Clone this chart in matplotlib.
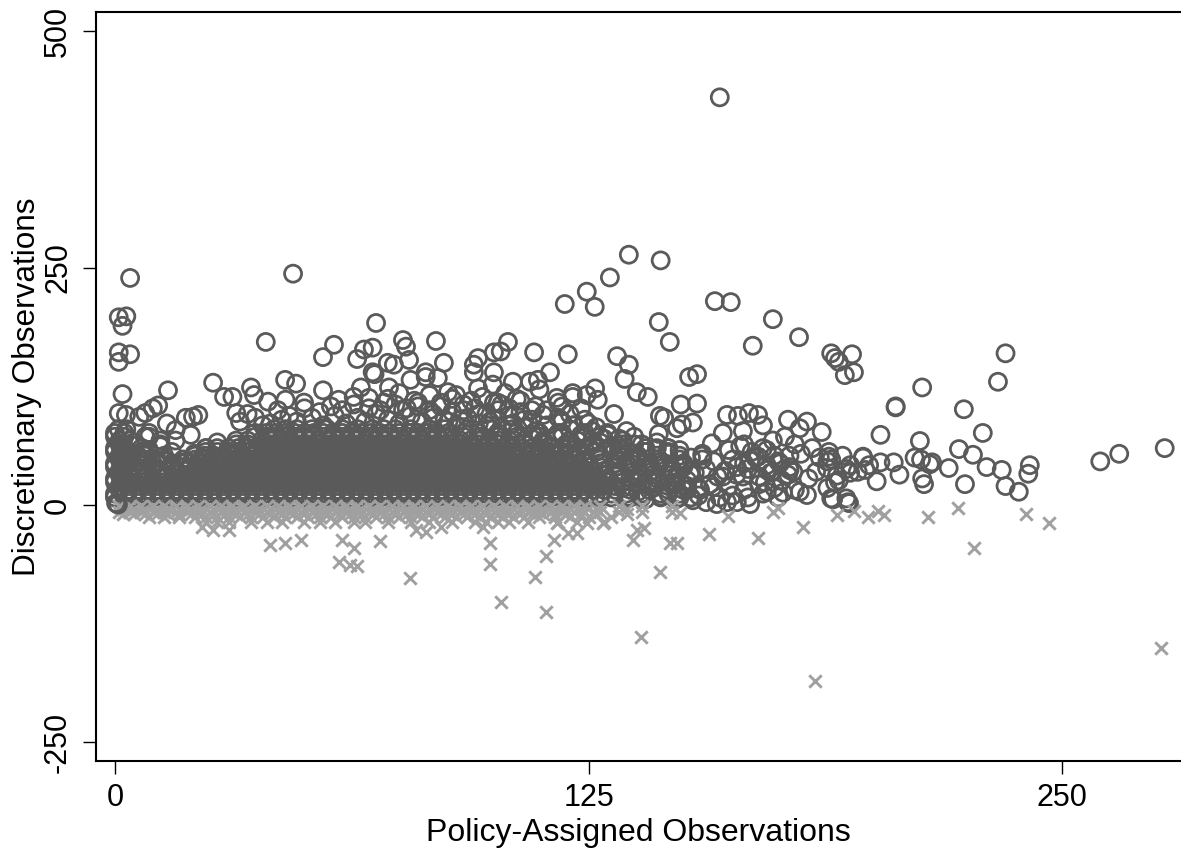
#!/usr/bin/env python3
"""Discretionary vs policy-assigned observations scatter, read off the picture."""

import matplotlib

matplotlib.use("Agg")
import matplotlib.pyplot as plt

plt.rcParams["font.family"] = ["Liberation Sans", "DejaVu Sans"]
plt.rcParams["axes.unicode_minus"] = False

# sparse upper circles, read one by one
outer_x = [159.6, 47, 4, 1, 3, 2, 1, 4, 1, 2, 135.6, 144, 130.6, 124.5, 118.7, 126.6, 158.3, 162.5,
           143.5, 173.6, 168.3, 180.5, 146.4, 119.5, 132.5, 135.6, 134.5, 137.7, 140.6, 151.5, 153.6,
           149.3, 153.6, 143.8, 144.9, 189, 194.5, 190, 191, 192.6, 195, 213, 235, 233, 206, 206, 202,
           224, 229, 212.4, 260, 265, 277, 222.7, 226.4, 230, 234, 224.3, 235, 238.5, 241.4, 241, 220,
           215.6, 211, 205.5, 202, 197.4, 198, 201, 207, 213, 213.5, 212.7, 215, 194, 199, 193, 189,
           193.7, 103.7, 101.8, 110.6, 114.8, 111.6, 109.5, 126.7, 127.4, 124.5, 120.8, 120.8, 116.6,
           131.7, 143.5, 148.3, 149.6, 152.5, 161.5, 164.4, 167.3, 169.7, 171, 165.7, 160.4, 157.5,
           177.6, 182.6, 180.7, 176.8, 179.4, 173.6, 186.5, 188.4, 188.4, 188, 185, 190.5, 187.9,
           197.4, 196, 189.5, 193.4, 167.6, 175.5, 178, 177.6, 179, 180.7, 182.6, 179.4, 176.3, 172,
           171.5, 173.6, 172, 169.7, 167.6, 164.1, 165.7, 164.1, 161.5, 158.8, 156, 152.5, 159.6,
           157.8, 160.4, 154.4]
outer_y = [430, 244, 239.5, 198, 199, 189, 161, 159, 151, 117, 264, 258, 240, 225, 212, 209, 215, 214,
           193, 196, 168, 177, 172, 159, 157, 148, 133, 119, 114, 135, 138,
           106, 107, 94, 92, 160, 159, 155, 151, 137, 140, 124, 160, 130, 104, 103, 74,
           101, 76, 67.5, 46, 54, 60, 59, 53, 40, 37, 22, 20, 14, 42, 33, 39,
           45, 50, 45, 45, 50, 37, 25, 32, 28, 22, 48, 43, 34, 42, 7, 7,
           2, 172, 162, 161, 140, 132, 130, 123, 111, 116, 118, 114, 113,
           96, 75, 81, 85, 87, 95, 94, 97, 95, 84, 78, 76, 65,
           90, 88, 81, 72, 64, 68, 77, 56, 51, 46, 35, 31, 39,
           51, 35, 6, 3, 1, 44, 37, 32, 35, 14, 10.5, 16, 13, 14,
           24, 35, 37, 51, 47, 40, 30, 3, 3, 1, 3, 5, 8,
           19, 30, 16]

# circles just above the solid cloud
upper_x = [68.9, 39.8, 57.8, 54.9, 76, 76.8, 84.7, 68, 65.7, 63.9, 77.6, 72, 73.6, 86.8, 95.8, 94.7,
           94.7, 100, 100, 68, 68.5, 72.3, 78, 82, 82, 85.2, 87.9, 95.8, 99.7, 64.9, 63, 67, 59, 54.9,
           47.8, 44.9, 45, 49.9, 40.4, 35.9, 36.7, 25.9, 28.8, 31, 32, 14, 1, 2.9, 8, 6.4, 11.4, 10,
           13.7, 18.7, 20.6, 22, 16, 71, 76, 80, 89, 92, 103, 106, 110, 91, 96, 84, 88, 102, 98,
           108, 104, 113, 117, 121, 125, 130, 135, 139, 143, 146, 105, 112, 100, 118, 128, 137]
upper_y = [192, 172, 169, 156, 174, 167, 173, 166, 164, 154, 153, 150, 148, 150, 155, 148,
           140, 161, 140, 140, 138, 124, 132, 140, 135, 134, 119, 123, 127, 124, 114, 113, 111, 121,
           128, 132, 111, 108, 109, 124, 116, 129, 114, 114, 97, 121, 97, 95, 97, 93, 105, 102,
           86, 92, 93, 95, 79, 108, 100, 104, 112, 100, 118, 112, 100, 90, 96, 92, 88, 106, 84,
           90, 84, 95, 92, 84, 86, 74, 78, 64, 66, 60, 130, 122, 108, 104, 72, 72]

# rings crowding the top of the cloud and its thinning right side
crowd_x = [33, 37, 41, 44, 48, 52, 55, 58, 61, 64, 66, 69, 72, 75, 78, 81, 84, 87, 90, 93, 96, 99, 102, 105,
           35, 39, 43, 46, 50, 54, 57, 60, 63, 67, 70, 74, 77, 80, 83, 86, 89, 92, 95, 98, 101, 104, 107, 110,
           72, 75, 79, 83, 86, 90, 94, 97, 101, 104, 107, 111, 114, 117, 120, 123,
           108, 111, 114, 117, 120, 123, 126, 129, 110, 113, 116, 119, 122, 125, 128, 131, 118, 121, 124, 127, 130, 133,
           131, 134, 137, 140, 143, 146, 149, 152, 155, 158, 132, 135, 138, 141, 144, 147, 150, 153, 156, 159,
           133, 136, 139, 142, 145, 148, 151, 154, 157, 134, 138, 142, 146, 150, 154, 136, 140, 144, 148, 152,
           162, 165, 168, 171, 174, 163, 166, 169, 172, 175, 178, 161, 164, 167, 170, 173, 176, 162, 166, 170, 174,
           163, 167, 171, 175, 166, 172, 178, 184, 181, 186, 183, 190, 193, 188, 191, 194, 189, 192,
           6, 9, 12, 15, 18, 21, 24, 27, 5, 8, 12, 16, 20, 7, 11, 15, 19, 23]
crowd_y = [88, 92, 86, 90, 88, 92, 84, 94, 86, 92, 88, 96, 90, 86, 94, 88, 96, 90, 84, 92, 86, 88, 82, 86,
           96, 84, 100, 94, 102, 98, 104, 100, 106, 102, 100, 106, 102, 108, 100, 104, 98, 106, 102, 96, 100, 94, 98, 90,
           112, 118, 110, 116, 108, 116, 110, 114, 108, 102, 110, 104, 100, 108, 96, 102,
           82, 78, 84, 76, 80, 74, 78, 70, 70, 66, 72, 64, 68, 62, 66, 60, 88, 84, 90, 82, 76, 70,
           62, 58, 64, 56, 60, 54, 58, 50, 54, 46, 48, 44, 50, 42, 46, 38, 42, 34, 38, 30,
           34, 28, 32, 24, 28, 22, 26, 18, 22, 18, 14, 18, 12, 16, 10, 8, 6, 9, 6, 8,
           58, 62, 56, 60, 52, 48, 44, 50, 42, 46, 40, 36, 32, 38, 30, 34, 26, 20, 16, 22, 18,
           10, 8, 12, 8, 64, 58, 52, 60, 54, 50, 28, 24, 38, 18, 26, 42, 48, 52,
           52, 58, 50, 56, 48, 54, 60, 66, 66, 72, 62, 68, 74, 46, 44, 42, 46, 50]

# solid cloud, one list per band of y values
band_y = [8, 16, 24, 32, 40, 48, 56, 64, 72, 80]
band_y_mid = [12, 20, 28, 36, 44, 52, 60, 68, 76, 84]
band_08 = [0, 2.5, 5, 7.5, 10, 12.5, 15, 17.5, 20, 22.5, 25, 27.5, 30, 32.5, 35, 37.5, 40, 42.5, 45, 47.5,
           50, 52.5, 55, 57.5, 60, 62.5, 65, 67.5, 70, 72.5, 75, 77.5, 80, 82.5, 85, 87.5, 90, 92.5, 95,
           97.5, 100, 102.5, 105, 107.5, 110, 112.5, 115, 117.5, 120, 122.5, 125, 128, 131, 135, 139, 144, 149]
band_16 = [1.2, 3.7, 6.2, 8.7, 11.2, 13.7, 16.2, 18.7, 21.2, 23.7, 26.2, 28.7, 31.2, 33.7, 36.2, 38.7, 41.2,
           43.7, 46.2, 48.7, 51.2, 53.7, 56.2, 58.7, 61.2, 63.7, 66.2, 68.7, 71.2, 73.7, 76.2, 78.7, 81.2,
           83.7, 86.2, 88.7, 91.2, 93.7, 96.2, 98.7, 101.2, 103.7, 106.2, 108.7, 111.2, 113.7, 116.2,
           118.7, 121.2, 123.7, 126.2, 129, 132, 136, 141, 146, 151]
band_24 = [0, 2.5, 5, 7.5, 10, 12.5, 15, 17.5, 20, 22.5, 25, 27.5, 30, 32.5, 35, 37.5, 40, 42.5, 45, 47.5,
           50, 52.5, 55, 57.5, 60, 62.5, 65, 67.5, 70, 72.5, 75, 77.5, 80, 82.5, 85, 87.5, 90, 92.5, 95,
           97.5, 100, 102.5, 105, 107.5, 110, 112.5, 115, 117.5, 120, 122.5, 125, 127.5, 130, 134, 138, 143, 148]
band_32 = [1.2, 3.7, 6.2, 8.7, 11.2, 13.7, 16.2, 18.7, 21.2, 23.7, 26.2, 28.7, 31.2, 33.7, 36.2, 38.7, 41.2,
           43.7, 46.2, 48.7, 51.2, 53.7, 56.2, 58.7, 61.2, 63.7, 66.2, 68.7, 71.2, 73.7, 76.2, 78.7, 81.2,
           83.7, 86.2, 88.7, 91.2, 93.7, 96.2, 98.7, 101.2, 103.7, 106.2, 108.7, 111.2, 113.7, 116.2,
           118.7, 121.2, 123.7, 126.2, 129, 133, 137, 142, 147, 152]
band_40 = [0, 2.5, 6, 10, 15, 17.5, 20, 22.5, 25, 27.5, 30, 32.5, 35, 37.5, 40, 42.5, 45, 47.5,
           50, 52.5, 55, 57.5, 60, 62.5, 65, 67.5, 70, 72.5, 75, 77.5, 80, 82.5, 85, 87.5, 90, 92.5, 95,
           97.5, 100, 102.5, 105, 107.5, 110, 112.5, 115, 117.5, 120, 122.5, 125, 128, 132, 136, 140, 145, 150]
band_48 = [1.2, 3.7, 8, 13, 21.2, 23.7, 26.2, 28.7, 31.2, 33.7, 36.2, 38.7, 41.2,
           43.7, 46.2, 48.7, 51.2, 53.7, 56.2, 58.7, 61.2, 63.7, 66.2, 68.7, 71.2, 73.7, 76.2, 78.7, 81.2,
           83.7, 86.2, 88.7, 91.2, 93.7, 96.2, 98.7, 101.2, 103.7, 106.2, 108.7, 111.2, 113.7, 116.2,
           118.7, 121.2, 124, 128, 133, 138, 143, 149, 155]
band_56 = [0, 2.5, 7, 24, 27, 30, 32.5, 35, 37.5, 40, 42.5, 45, 47.5, 50, 52.5, 55, 57.5, 60, 62.5, 65,
           67.5, 70, 72.5, 75, 77.5, 80, 82.5, 85, 87.5, 90, 92.5, 95, 97.5, 100, 102.5, 105, 107.5, 110,
           112.5, 115, 118, 122, 127, 133, 140, 146]
band_64 = [1.2, 4, 12, 32, 35, 38.7, 41.2, 43.7, 46.2, 48.7, 51.2, 53.7, 56.2, 58.7, 61.2, 63.7, 66.2,
           68.7, 71.2, 73.7, 76.2, 78.7, 81.2, 83.7, 86.2, 88.7, 91.2, 93.7, 96.2, 98.7, 101.2, 104, 108,
           113, 120, 126, 134]
band_72 = [0, 2.5, 9, 37, 40, 42.5, 45, 47.5, 50, 52.5, 55, 57.5, 60, 62.5, 65, 67.5, 70, 72.5, 75,
           77.5, 80, 82.5, 85, 88, 92, 96, 101, 106, 112, 118, 124]
band_80 = [1, 3, 42, 45, 48, 52, 56, 60, 64, 68, 71, 74, 78, 83, 87, 93, 99, 105]

# grey crosses: band under zero, then the stragglers
cross_rows_y = [-1, -4, -7, -10, -13, -18]
cross_0 = [1, 4, 7, 10, 13, 16, 19, 22, 25, 28, 31, 34, 37, 40, 43, 46, 49, 52, 55, 58, 61, 64, 67, 70, 73,
           76, 79, 82, 85, 88, 91, 94, 97, 100, 103, 106, 109, 112, 115, 118, 121, 124, 128, 133, 139, 147]
cross_6 = [2, 5, 8, 11, 14, 17, 20, 23, 26, 29, 32, 35, 38, 41, 44, 47, 50, 53, 56, 59, 62, 65, 68, 71, 74,
           77, 80, 83, 86, 89, 92, 95, 98, 101, 104, 107, 110, 113, 116, 119, 123, 127, 135]
cross_12 = [9, 13, 17, 21, 24, 27, 30, 33, 36, 39, 42, 45, 48, 51, 54, 57, 60, 63, 66, 69, 72, 75, 78, 81,
            84, 87, 90, 93, 96, 99, 102, 105, 108, 112, 116, 120, 125, 131]
cross_18 = [24, 27, 30, 36, 40, 44, 50, 54, 58, 63, 66, 72, 78, 83, 89, 95, 98, 101, 104, 109, 117, 122, 129]
cross_rows = [cross_0, cross_6, cross_0, cross_6, cross_12, cross_18]
stray_x = [276, 184.7, 138.8, 113.7, 101.8, 110.8, 77.8, 99, 113.7, 99, 143.8, 146.4, 148.3, 136.7, 139.6,
           156.7, 169.7, 226.7, 246.4, 240.4, 214.5, 222.4, 203, 201.3, 198.7, 195, 190.5, 181.5, 173.6,
           161.7, 41, 45, 49, 60, 63, 59, 62, 64, 70, 79.4, 82, 86, 97, 30, 25.9, 23, 115.8, 119.5, 122,
           128.8, 124.5, 116.6, 137.7, 149, 175]
stray_y = [-151, -186, -139, -113, -102, -76, -77, -62, -54, -40, -71, -40, -40, -37, -24,
           -31, -35, -45, -19, -9.5, -13, -3, -10.5, -6, -13, -6, -10.5, -23, -7,
           -12, -42, -40, -37, -37, -45, -60, -63, -64, -38, -26, -28, -23, -23, -26, -26, -23, -37, -30, -30,
           -19, -19, -19, -26, -8, -3]

# a few dark rings that sit over the crosses at the origin
front_x = [0.3, 0.8]
front_y = [2, 0.5]

x_ticks = [0, 125, 250]
y_ticks = [-250, 0, 250, 500]

DARK = "#5a5a5a"
GREY = "#a0a0a0"


def main() -> None:
    fig = plt.figure(figsize=(11.81, 8.49), dpi=100)
    ax = fig.add_axes([96 / 1181, 1 - 761 / 849, 1 - 96 / 1181, (761 - 12) / 849])

    ring = dict(s=150, facecolors="none", edgecolors=DARK, linewidths=2.0, marker="o")
    cross = dict(s=80, color=GREY, linewidths=2.1, marker="x")

    bands = [band_08, band_16, band_24, band_32, band_40, band_48, band_56, band_64, band_72, band_80]
    for y, y_mid, xs in zip(band_y, band_y_mid, bands):
        ax.scatter(xs, [y] * len(xs), **ring)
        # second pass half a band higher closes the holes between rings
        if y < 80:
            ax.scatter(xs, [y_mid] * len(xs), **ring)
    ax.scatter(crowd_x, crowd_y, **ring)
    ax.scatter(upper_x, upper_y, **ring)
    ax.scatter(outer_x, outer_y, **ring)

    for y, xs in zip(cross_rows_y, cross_rows):
        ax.scatter(xs, [y] * len(xs), **cross)
    ax.scatter(stray_x, stray_y, **cross)
    ax.scatter(front_x, front_y, **ring)

    ax.set_xlim(-5, 281.3)
    ax.set_ylim(-270, 520)
    ax.set_xticks(x_ticks)
    ax.set_yticks(y_ticks)
    ax.tick_params(axis="x", length=9.5, width=1.0, labelsize=22, pad=6)
    ax.tick_params(axis="y", length=9.5, width=1.0, labelsize=22, pad=7)
    for lab in ax.get_yticklabels():
        lab.set_rotation(90)
        lab.set_va("center")
    ax.set_xlabel("Policy-Assigned Observations", fontsize=23, labelpad=4)
    ax.set_ylabel("Discretionary Observations", fontsize=22.7, labelpad=1)
    ax.spines["right"].set_visible(False)
    for side in ("left", "top", "bottom"):
        ax.spines[side].set_linewidth(1.5)

    fig.savefig("out.png", dpi=100)
    plt.close(fig)


if __name__ == "__main__":
    main()
